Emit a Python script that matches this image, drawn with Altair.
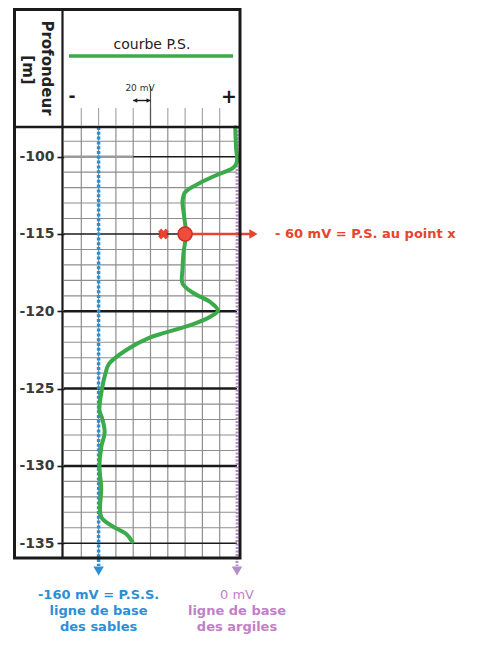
import altair as alt
import pandas as pd

# ---------------- data ----------------
CURVE_MV = [-2, -1, 0, -4, -24, -43, -60, -63, -61, -59, -62, -63, -63, -51, -31, -22,
            -31, -49, -66, -84, -101, -128, -148, -152, -156, -159, -156, -153, -157,
            -159, -157, -157, -144, -128, -121]
CURVE_DEPTH = [108.1, 109.5, 110.3, 110.7, 111.2, 111.7, 112.3, 112.9, 113.9, 115.0,
               116.3, 117.3, 118.2, 118.8, 119.4, 119.95, 120.35, 120.8, 121.1, 121.4,
               121.7, 122.5, 123.4, 124.0, 125.0, 126.4, 126.9, 127.8, 128.8, 130.0,
               131.4, 133.3, 133.9, 134.4, 134.9]

TICK_DEPTHS = [110, 115, 120, 125, 130, 135]
TICK_LABELS = ["-100", "-115", "-120", "-125", "-130", "-135"]
THICK_DEPTHS = [120, 125, 130]
THIN_DEPTHS = [110, 115, 135]
MINOR_DEPTHS = [109, 111, 112, 113, 114, 116, 117, 118, 119, 121, 122, 123, 124,
                126, 127, 128, 129, 131, 132, 133, 134]
GRID_MV = [-180, -160, -140, -120, -100, -80, -60, -40, -20]
SCALE_BAR_MV = [-120, -100]

PSS_MV = -160
CLAY_MV = 0
POINT_MV = -60
POINT_DEPTH = 115
CROSS_MV = -85
ARROW_END_MV = 15
ARROW_TIP_MV = 19
NOTE_MV = 44

X_DOMAIN = [-200, 0]
Y_DOMAIN = [108.08, 135.89]

HEADER_TITLE = "courbe P.S."
DEPTH_TITLE = ["Profondeur", "[m]"]
SCALE_TEXT = "20 mV"
MINUS_TEXT = "-"
PLUS_TEXT = "+"
NOTE_TEXT = "- 60 mV = P.S. au point x"
SAND_LINES = ["-160 mV = P.S.S.", "ligne de base", "des sables"]
CLAY_LINES = ["0 mV", "ligne de base", "des argiles"]

# ---------------- layout helpers ----------------
W, H = 173, 430
LEFT, TOP = 56, 119


def PX(p):
    return p - 8 - LEFT


def PY(p):
    return p - 8 - TOP


GREEN = "#3aaa4a"
BLUE = "#2b8fd6"
PURPLE = "#b68bcb"
PURPLE_TXT = "#c27fc7"
RED = "#e8432f"
GRID = "#8e8e8e"
INK = "#1a1a1a"
LABEL = "#3a3a3a"
FONT = "DejaVu Sans"

XS = alt.Scale(domain=X_DOMAIN, nice=False, zero=False)
YS = alt.Scale(domain=Y_DOMAIN, nice=False, zero=False, reverse=True)

label_expr = "".join(f"datum.value == {d} ? '{l}' : " for d, l in zip(TICK_DEPTHS, TICK_LABELS)) + "''"
Y_AXIS = alt.Axis(values=TICK_DEPTHS, labelExpr=label_expr, domain=False, grid=False,
                  ticks=True, tickSize=7, tickWidth=1.6, tickColor=INK,
                  labelFont=FONT, labelFontSize=14, labelFontWeight="bold",
                  labelColor=LABEL, labelPadding=3, labelOverlap=False,
                  labelBound=False, labelFlush=False, title=None)


def xq(f):
    return alt.X(f, type="quantitative", scale=XS, axis=None)


def yq(f):
    return alt.Y(f, type="quantitative", scale=YS, axis=Y_AXIS)


ONE = pd.DataFrame({"k": [0]})

layers = []

# minor grid
layers.append(alt.Chart(pd.DataFrame({"depth": MINOR_DEPTHS})).mark_rule(
    color=GRID, strokeWidth=1.1).encode(y=yq("depth")))
layers.append(alt.Chart(pd.DataFrame({"mv": GRID_MV})).mark_rule(
    color=GRID, strokeWidth=1.2).encode(x=xq("mv")))

# major lines
layers.append(alt.Chart(pd.DataFrame({"depth": THIN_DEPTHS})).mark_rule(
    color=INK, strokeWidth=1.6).encode(y=yq("depth")))
layers.append(alt.Chart(pd.DataFrame({"depth": THICK_DEPTHS})).mark_rule(
    color=INK, strokeWidth=2.5).encode(y=yq("depth")))
# grey smear on the -100 line
layers.append(alt.Chart(pd.DataFrame({"a": [X_DOMAIN[0]], "b": [-120], "depth": [110]})).mark_rule(
    color="#9a9a9a", strokeWidth=2.5).encode(x=xq("a"), x2="b", y=yq("depth")))

# base lines
layers.append(alt.Chart(pd.DataFrame({"mv": [PSS_MV]})).mark_rule(
    color=BLUE, strokeWidth=3.5, strokeDash=[3, 1.8]).encode(
    x=xq("mv"), y=alt.value(0), y2=alt.value(PY(566))))
layers.append(alt.Chart(pd.DataFrame({"mv": [CLAY_MV]})).mark_rule(
    color=PURPLE, strokeWidth=2.8, strokeDash=[2, 1.5]).encode(
    x=xq("mv"), y=alt.value(0), y2=alt.value(PY(566))))
layers.append(alt.Chart(pd.DataFrame({"mv": [PSS_MV]})).mark_point(
    shape="triangle-down", filled=True, size=110, color=BLUE, opacity=1).encode(
    x=xq("mv"), y=alt.value(PY(571))))
layers.append(alt.Chart(pd.DataFrame({"mv": [CLAY_MV]})).mark_point(
    shape="triangle-down", filled=True, size=110, color=PURPLE, opacity=1).encode(
    x=xq("mv"), y=alt.value(PY(571))))

# SP curve
curve = pd.DataFrame({"mv": CURVE_MV, "depth": CURVE_DEPTH, "i": list(range(len(CURVE_MV)))})
layers.append(alt.Chart(curve).mark_line(
    color=GREEN, strokeWidth=4, interpolate="catmull-rom", strokeCap="round",
    strokeJoin="round").encode(x=xq("mv"), y=yq("depth"), order=alt.Order("i:Q")))

# red annotation
red = pd.DataFrame({"mv": [POINT_MV], "end": [ARROW_END_MV], "tip": [ARROW_TIP_MV],
                    "cross": [CROSS_MV], "note": [NOTE_MV], "depth": [POINT_DEPTH]})
layers.append(alt.Chart(red).mark_rule(color=RED, strokeWidth=2.5).encode(
    x=xq("mv"), x2="end", y=yq("depth")))
layers.append(alt.Chart(red).mark_point(
    shape="triangle-right", filled=True, size=90, color=RED, opacity=1).encode(
    x=xq("tip"), y=yq("depth")))
layers.append(alt.Chart(red).mark_point(
    shape="circle", filled=True, size=200, fill="#ee4d3c", stroke="#d02a1e",
    strokeWidth=1.5, opacity=1).encode(x=xq("mv"), y=yq("depth")))
layers.append(alt.Chart(red).mark_point(
    shape="cross", angle=45, filled=True, size=120, color=RED, opacity=1).encode(
    x=xq("cross"), y=yq("depth")))
layers.append(alt.Chart(red).mark_text(
    align="left", baseline="middle", font=FONT, fontSize=13, fontWeight="bold",
    color=RED).encode(x=xq("note"), y=yq("depth"), text=alt.value(NOTE_TEXT)))

# frame
layers.append(alt.Chart(ONE).mark_rect(fillOpacity=0, stroke=INK, strokeWidth=3).encode(
    x=alt.value(PX(14.5)), x2=alt.value(PX(240)), y=alt.value(PY(9.5)), y2=alt.value(PY(558))))
layers.append(alt.Chart(ONE).mark_rule(color=INK, strokeWidth=2.2).encode(
    x=alt.value(PX(62.5)), y=alt.value(PY(9.5)), y2=alt.value(PY(558))))
layers.append(alt.Chart(ONE).mark_rule(color=INK, strokeWidth=2.5).encode(
    x=alt.value(PX(14.5)), x2=alt.value(PX(240)), y=alt.value(PY(127))))

# header
layers.append(alt.Chart(ONE).mark_text(
    font=FONT, fontSize=14, color="#222222", align="center", baseline="middle").encode(
    x=alt.value(PX(152)), y=alt.value(PY(45)), text=alt.value(HEADER_TITLE)))
layers.append(alt.Chart(ONE).mark_rule(color=GREEN, strokeWidth=3.5).encode(
    x=alt.value(PX(69)), x2=alt.value(PX(233)), y=alt.value(PY(56))))
layers.append(alt.Chart(pd.DataFrame({"mv": GRID_MV})).mark_rule(
    color="#a8a8a8", strokeWidth=1.2).encode(
    x=xq("mv"), y=alt.value(PY(108)), y2=alt.value(PY(126))))
layers.append(alt.Chart(pd.DataFrame({"mv": [SCALE_BAR_MV[1]]})).mark_rule(
    color="#555555", strokeWidth=1.2).encode(
    x=xq("mv"), y=alt.value(PY(86)), y2=alt.value(PY(126))))
sb = pd.DataFrame({"a": [SCALE_BAR_MV[0]], "b": [SCALE_BAR_MV[1]]})
layers.append(alt.Chart(sb).mark_rule(color=INK, strokeWidth=1.4).encode(
    x=xq("a"), x2="b", y=alt.value(PY(100.5))))
layers.append(alt.Chart(sb).mark_point(
    shape="triangle-left", filled=True, size=22, color=INK, opacity=1, xOffset=2).encode(
    x=xq("a"), y=alt.value(PY(100.5))))
layers.append(alt.Chart(sb).mark_point(
    shape="triangle-right", filled=True, size=22, color=INK, opacity=1, xOffset=-2).encode(
    x=xq("b"), y=alt.value(PY(100.5))))
layers.append(alt.Chart(ONE).mark_text(
    font=FONT, fontSize=9, color="#333333", align="center", baseline="middle").encode(
    x=alt.value(PX(140)), y=alt.value(PY(88)), text=alt.value(SCALE_TEXT)))
layers.append(alt.Chart(ONE).mark_text(
    font=FONT, fontSize=17, fontWeight="bold", color=INK, align="center", baseline="middle").encode(
    x=alt.value(PX(72)), y=alt.value(PY(97)), text=alt.value(MINUS_TEXT)))
layers.append(alt.Chart(ONE).mark_text(
    font=FONT, fontSize=19, fontWeight="bold", color=INK, align="center", baseline="middle").encode(
    x=alt.value(PX(229)), y=alt.value(PY(97)), text=alt.value(PLUS_TEXT)))
layers.append(alt.Chart(ONE).mark_text(
    font=FONT, fontSize=15, fontWeight="bold", color="#222222", align="center",
    baseline="middle", angle=90).encode(
    x=alt.value(PX(47)), y=alt.value(PY(68)), text=alt.value(DEPTH_TITLE[0])))
layers.append(alt.Chart(ONE).mark_text(
    font=FONT, fontSize=15, fontWeight="bold", color="#222222", align="center",
    baseline="middle", angle=90).encode(
    x=alt.value(PX(28)), y=alt.value(PY(70)), text=alt.value(DEPTH_TITLE[1])))

# bottom notes
for i, line in enumerate(SAND_LINES):
    layers.append(alt.Chart(pd.DataFrame({"mv": [PSS_MV]})).mark_text(
        font=FONT, fontSize=13, fontWeight="bold", color=BLUE, align="center",
        baseline="middle").encode(x=xq("mv"), y=alt.value(PY(595 + 16 * i)),
                                  text=alt.value(line)))
for i, line in enumerate(CLAY_LINES):
    layers.append(alt.Chart(pd.DataFrame({"mv": [CLAY_MV]})).mark_text(
        font=FONT, fontSize=13, fontWeight="normal" if i == 0 else "bold",
        color=PURPLE_TXT, align="center", baseline="middle").encode(
        x=xq("mv"), y=alt.value(PY(595 + 16 * i)), text=alt.value(line)))

chart = alt.layer(*layers).properties(
    width=W, height=H,
    padding={"left": LEFT, "top": TOP, "right": 238, "bottom": 83},
    autosize=alt.AutoSizeParams(type="none"),
    background="white",
).configure_view(stroke=None)

chart.save("out.html", embed_options={"renderer": "svg", "actions": False})
